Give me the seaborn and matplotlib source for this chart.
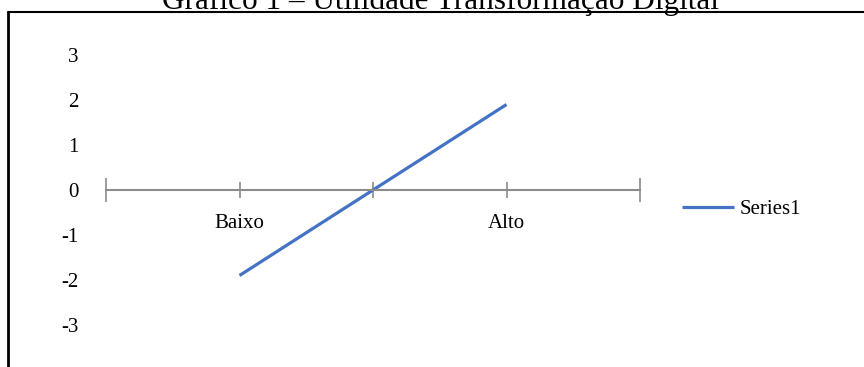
import numpy as np
import pandas as pd
import seaborn as sns
import matplotlib.pyplot as plt
from matplotlib.lines import Line2D

# Chart data
title = "Gráfico 1 – Utilidade Transformação Digital"
series_name = "Series1"
categories = ["Baixo", "", "Alto"]
positions = [1, 2, 3]
line_positions = [1, 3]
series1 = [-1.9, 1.9]
y_ticks = [-3, -2, -1, 0, 1, 2, 3]

sns.set_theme(style="white")
plt.rcParams["font.family"] = ["Liberation Serif", "DejaVu Serif"]

W, H = 864, 367
fig = plt.figure(figsize=(W / 100, H / 100), dpi=100)
fig.patch.set_facecolor("white")

# plot area: x from 106 to 640 px, y from 55 (top) to 325 (bottom) px
ax = fig.add_axes([106 / W, 1 - 325 / H, 534 / W, 270 / H])

df = pd.DataFrame({"pos": line_positions, "valor": series1,
                   "serie": [series_name] * len(series1)})
sns.lineplot(data=df, x="pos", y="valor", hue="serie",
             palette=["#4472C4"], linewidth=2.3, ax=ax,
             solid_capstyle="butt")

ax.set_xlim(0, 4)
ax.set_ylim(-3, 3)
ax.set_xlabel("")
ax.set_ylabel("")

# category axis crossing at zero
for s in ("left", "right", "top"):
    ax.spines[s].set_visible(False)
ax.spines["bottom"].set_position(("data", 0))
ax.spines["bottom"].set_color("#8c8c8c")
ax.spines["bottom"].set_linewidth(1.5)

ax.set_xticks(positions)
ax.set_xticklabels(categories)
ax.set_xticks([0, 4], minor=True)
ax.tick_params(axis="x", which="both", bottom=True)
ax.tick_params(axis="x", which="major", direction="inout", length=12,
               width=1.2, color="#8c8c8c", pad=11, labelsize=15,
               labelcolor="black")
ax.tick_params(axis="x", which="minor", direction="inout", length=17,
               width=1.2, color="#8c8c8c")

ax.set_yticks(y_ticks)
ax.set_yticklabels([str(v) for v in y_ticks])
ax.tick_params(axis="y", left=False, length=0, pad=19.5, labelsize=15,
               labelcolor="black")
ax.grid(False)
ax.set_facecolor("white")

sns.move_legend(ax, loc="center left",
                bbox_to_anchor=((682 - 106) / 534, (325 - 209) / 270),
                frameon=False, title=None, fontsize=15,
                handlelength=2.5, handletextpad=0.25,
                borderpad=0, borderaxespad=0)
for t in ax.get_legend().get_texts():
    t.set_color("black")

# title, partly above the top edge of the page
fig.text(0.51, 1 - 8.5 / H, title, ha="center", va="baseline",
         fontsize=22.5, color="black")

# frame lines
fig.add_artist(Line2D([8 / W, 1], [1 - 12 / H, 1 - 12 / H],
                      color="black", linewidth=1.5,
                      transform=fig.transFigure))
fig.add_artist(Line2D([8 / W, 8 / W], [0, 1 - 12 / H],
                      color="black", linewidth=2.0,
                      transform=fig.transFigure))

fig.savefig("out.png", dpi=100, facecolor="white")
